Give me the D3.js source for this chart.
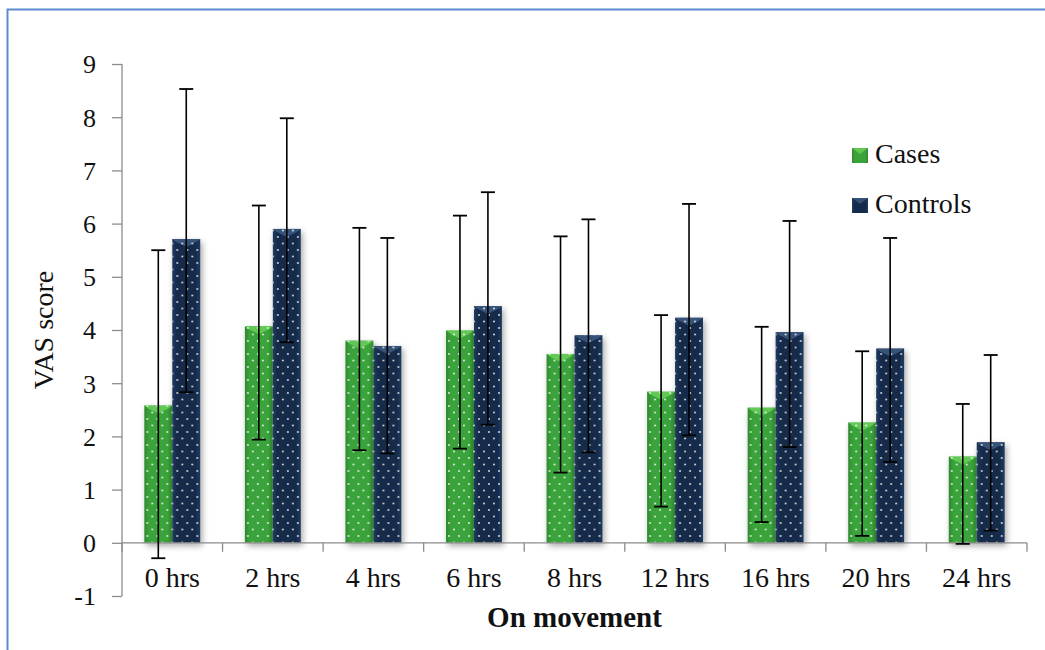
<!DOCTYPE html>
<html>
<head>
<meta charset="utf-8">
<script src="https://cdn.jsdelivr.net/npm/d3@7"></script>
<style>
  html, body { margin: 0; padding: 0; background: #fff; }
  svg { display: block; }
  text { font-family: "Liberation Serif", "Times New Roman", serif; fill: #111; }
</style>
</head>
<body>
<svg id="chart" width="1045" height="650"></svg>
<script>
const categories = ["0 hrs", "2 hrs", "4 hrs", "6 hrs", "8 hrs", "12 hrs", "16 hrs", "20 hrs", "24 hrs"];
const seriesNames = ["Cases", "Controls"];
const cases = [2.58, 4.07, 3.80, 3.99, 3.55, 2.84, 2.54, 2.26, 1.62];
const casesLow = [-0.29, 1.94, 1.74, 1.77, 1.32, 0.68, 0.39, 0.13, -0.02];
const casesHigh = [5.50, 6.34, 5.92, 6.15, 5.76, 4.28, 4.06, 3.60, 2.61];
const controls = [5.71, 5.90, 3.70, 4.45, 3.90, 4.23, 3.96, 3.65, 1.89];
const controlsLow = [2.83, 3.77, 1.68, 2.22, 1.70, 2.02, 1.80, 1.52, 0.23];
const controlsHigh = [8.53, 7.98, 5.73, 6.59, 6.08, 6.37, 6.05, 5.73, 3.53];
const yTicks = [-1, 0, 1, 2, 3, 4, 5, 6, 7, 8, 9];

const svg = d3.select("#chart");
const defs = svg.append("defs");

function hGrad(id, edge, mid) {
  const g = defs.append("linearGradient").attr("id", id).attr("x1", 0).attr("x2", 1).attr("y1", 0).attr("y2", 0);
  g.append("stop").attr("offset", "0%").attr("stop-color", edge);
  g.append("stop").attr("offset", "18%").attr("stop-color", mid);
  g.append("stop").attr("offset", "82%").attr("stop-color", mid);
  g.append("stop").attr("offset", "100%").attr("stop-color", edge);
}
hGrad("gGreen", "#2f8a2f", "#3ba33b");
hGrad("gNavy", "#213a5e", "#142a4a");

function dots(id) {
  const p = defs.append("pattern").attr("id", id).attr("patternUnits", "userSpaceOnUse")
    .attr("width", 10).attr("height", 13);
  p.append("circle").attr("cx", 3).attr("cy", 3).attr("r", 0.9).attr("fill", "#fff").attr("opacity", 0.9);
  p.append("circle").attr("cx", 8).attr("cy", 9.5).attr("r", 0.9).attr("fill", "#fff").attr("opacity", 0.9);
}
dots("dots");

const sh = defs.append("filter").attr("id", "shadow").attr("x", "-30%").attr("y", "-10%").attr("width", "160%").attr("height", "130%");
sh.append("feDropShadow").attr("dx", 2).attr("dy", 3).attr("stdDeviation", 3).attr("flood-color", "#000").attr("flood-opacity", 0.35);

svg.append("rect").attr("x", 7.5).attr("y", 9.5).attr("width", 1100).attr("height", 700)
  .attr("fill", "none").attr("stroke", "#5b8ccf").attr("stroke-width", 2);

const x0 = 122, x1 = 1027;
const x = d3.scaleBand().domain(categories).range([x0, x1]).paddingInner(0.444).paddingOuter(0.222);
const xs = d3.scaleBand().domain(seriesNames).range([0, x.bandwidth()]);
const y = d3.scaleLinear().domain([-1, 9]).range([596, 64]);

const data = categories.map((c, i) => ({
  cat: c,
  vals: [
    { s: "Cases", v: cases[i], lo: casesLow[i], hi: casesHigh[i] },
    { s: "Controls", v: controls[i], lo: controlsLow[i], hi: controlsHigh[i] }
  ]
}));
const fills = { Cases: "url(#gGreen)", Controls: "url(#gNavy)" };
const topCol = { Cases: "#6ad05a", Controls: "#3d5a82" };

const groups = svg.append("g").selectAll("g").data(data).join("g")
  .attr("transform", d => `translate(${x(d.cat)},0)`);

groups.selectAll("g.bar").data(d => d.vals).join("g").attr("class", "bar").each(function(d) {
  const g = d3.select(this);
  const bx = xs(d.s), bw = xs.bandwidth();
  const yt = y(d.v), yb = y(0);
  g.append("rect").attr("x", bx).attr("y", yt).attr("width", bw).attr("height", yb - yt)
    .attr("fill", fills[d.s]).attr("filter", "url(#shadow)");
  g.append("path")
    .attr("d", `M${bx},${yt} L${bx + bw},${yt} L${bx + bw - 4},${yt + 3} L${bx + bw / 2},${yt + 8} L${bx + 4},${yt + 3} Z`)
    .attr("fill", topCol[d.s]).attr("opacity", 0.85);
  g.append("rect").attr("x", bx).attr("y", yt).attr("width", bw).attr("height", yb - yt)
    .attr("fill", "url(#dots)");
});

const axisColor = "#8c8c8c";
const yAxis = svg.append("g").attr("transform", `translate(${x0},0)`)
  .call(d3.axisLeft(y).tickValues(yTicks).tickFormat(d => String(d)).tickSize(10).tickPadding(16));
yAxis.selectAll(".domain").attr("stroke", axisColor).attr("stroke-width", 1.3).attr("d", `M0,${y(-1)}V${y(9)}`);
yAxis.selectAll(".tick line").attr("stroke", axisColor).attr("stroke-width", 1.3);
yAxis.selectAll(".tick text").style("font-size", "26px").style("font-family", "'Liberation Serif', serif").attr("fill", "#111").attr("dy", "0.34em");

const xAxisG = svg.append("g").attr("transform", `translate(0,${y(0)})`);
xAxisG.append("line").attr("x1", x0).attr("x2", x1).attr("y1", 0).attr("y2", 0)
  .attr("stroke", axisColor).attr("stroke-width", 1.3);
const boundaries = categories.map(c => x(c) - (x.step() - x.bandwidth()) / 2).concat([x1]);
xAxisG.selectAll("line.tk").data(boundaries).join("line").attr("class", "tk")
  .attr("x1", d => d).attr("x2", d => d).attr("y1", 0).attr("y2", 9)
  .attr("stroke", axisColor).attr("stroke-width", 1.3);
svg.append("g").selectAll("text").data(categories).join("text")
  .attr("x", d => x(d) + x.bandwidth() / 2).attr("y", 587)
  .attr("text-anchor", "middle").style("font-size", "28px").text(d => d);

const eb = svg.append("g");
data.forEach(d => {
  d.vals.forEach(v => {
    const cx = x(d.cat) + xs(v.s) + xs.bandwidth() / 2;
    eb.append("line").attr("x1", cx).attr("x2", cx).attr("y1", y(v.hi)).attr("y2", y(v.lo))
      .attr("stroke", "#000").attr("stroke-width", 1.6);
    [v.hi, v.lo].forEach(e => {
      eb.append("line").attr("x1", cx - 7).attr("x2", cx + 7).attr("y1", y(e)).attr("y2", y(e))
        .attr("stroke", "#000").attr("stroke-width", 1.8);
    });
  });
});

svg.append("text").attr("x", (x0 + x1) / 2).attr("y", 627).attr("text-anchor", "middle")
  .style("font-size", "29px").style("font-weight", "bold").text("On movement");
svg.append("text").attr("transform", `translate(53,${(y(9) + y(-1)) / 2}) rotate(-90)`)
  .attr("text-anchor", "middle").style("font-size", "28px").text("VAS score");

const legend = svg.append("g");
seriesNames.forEach((s, i) => {
  const ly = 163 + i * 50;
  legend.append("rect").attr("x", 852).attr("y", ly - 15).attr("width", 16).attr("height", 15)
    .attr("fill", fills[s]);
  legend.append("path").attr("d", `M852,${ly - 15} L868,${ly - 15} L860,${ly - 9} Z`).attr("fill", topCol[s]).attr("opacity", 0.8);
  legend.append("text").attr("x", 875).attr("y", ly).style("font-size", "28px").text(s);
});
</script>
</body>
</html>
